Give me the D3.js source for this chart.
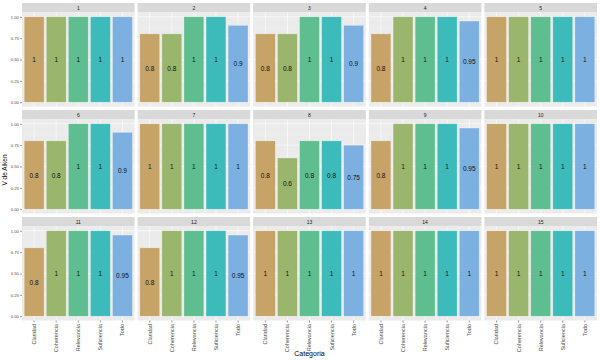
<!DOCTYPE html>
<html>
<head>
<meta charset="utf-8">
<script src="https://cdn.jsdelivr.net/npm/d3@7"></script>
<style>
  body { margin: 0; background: #fff; }
  svg { display: block; font-family: "Liberation Sans", Arial, sans-serif; }
</style>
</head>
<body>
<svg id="chart" width="600" height="360"></svg>
<script>
// Datos
const categorias = ["Claridad", "Coherencia", "Relevancia", "Suficiencia", "Todo"];
const items = ["1", "2", "3", "4", "5", "6", "7", "8", "9", "10", "11", "12", "13", "14", "15"];
const valores = [
  [1, 1, 1, 1, 1],
  [0.8, 0.8, 1, 1, 0.9],
  [0.8, 0.8, 1, 1, 0.9],
  [0.8, 1, 1, 1, 0.95],
  [1, 1, 1, 1, 1],
  [0.8, 0.8, 1, 1, 0.9],
  [1, 1, 1, 1, 1],
  [0.8, 0.6, 0.8, 0.8, 0.75],
  [0.8, 1, 1, 1, 0.95],
  [1, 1, 1, 1, 1],
  [0.8, 1, 1, 1, 0.95],
  [0.8, 1, 1, 1, 0.95],
  [1, 1, 1, 1, 1],
  [1, 1, 1, 1, 1],
  [1, 1, 1, 1, 1]
];
const yTicks = [0, 0.25, 0.5, 0.75, 1];
const colores = ["#c6a367", "#9ab56c", "#5ebe90", "#3dbbbb", "#7cb0e0"];

const svg = d3.select("#chart");

// Layout de facetas (5 columnas x 3 filas)
const nCol = 5;
const left = 22, right = 597;
const stripH = 9.5, panelH = 94, rowPitch = 107, top0 = 3;

const colScale = d3.scaleBand()
  .domain(d3.range(nCol))
  .range([left, right])
  .paddingInner(0.026);
const pw = colScale.bandwidth();

const x = d3.scaleBand().domain(categorias).range([0, pw]).padding(0.1);
const y = d3.scaleLinear().domain([-0.05, 1.05]).range([panelH, 0]);
const color = d3.scaleOrdinal().domain(categorias).range(colores);

items.forEach((it, i) => {
  const c = i % nCol, r = Math.floor(i / nCol);
  const px = colScale(c);
  const sy = top0 + r * rowPitch;
  const py = sy + stripH;

  // Strip
  svg.append("rect")
    .attr("x", px).attr("y", sy)
    .attr("width", pw).attr("height", stripH)
    .attr("fill", "#d9d9d9");
  svg.append("text")
    .attr("x", px + pw / 2).attr("y", sy + stripH / 2)
    .attr("text-anchor", "middle")
    .attr("dominant-baseline", "central")
    .attr("font-size", "5px")
    .attr("fill", "#1a1a1a")
    .text(it);

  const g = svg.append("g").attr("transform", `translate(${px},${py})`);

  // Fondo y grilla
  g.append("rect").attr("width", pw).attr("height", panelH).attr("fill", "#ebebeb");
  const minor = [0.125, 0.375, 0.625, 0.875];
  g.selectAll(".minor").data(minor).enter().append("line")
    .attr("x1", 0).attr("x2", pw)
    .attr("y1", d => y(d)).attr("y2", d => y(d))
    .attr("stroke", "#f5f5f5").attr("stroke-width", 0.3);
  g.selectAll(".major").data(yTicks).enter().append("line")
    .attr("x1", 0).attr("x2", pw)
    .attr("y1", d => y(d)).attr("y2", d => y(d))
    .attr("stroke", "#fff").attr("stroke-width", 0.6);
  g.selectAll(".vgrid").data(categorias).enter().append("line")
    .attr("x1", d => x(d) + x.bandwidth() / 2).attr("x2", d => x(d) + x.bandwidth() / 2)
    .attr("y1", 0).attr("y2", panelH)
    .attr("stroke", "#fff").attr("stroke-width", 0.6);

  const datos = categorias.map((k, j) => ({ cat: k, v: valores[i][j] }));

  // Barras
  g.selectAll(".bar").data(datos).enter().append("rect")
    .attr("x", d => x(d.cat))
    .attr("y", d => y(d.v))
    .attr("width", x.bandwidth())
    .attr("height", d => y(0) - y(d.v))
    .attr("fill", d => color(d.cat))
    .attr("stroke", "#ffffff")
    .attr("stroke-opacity", 0.45)
    .attr("stroke-width", 0.6);

  // Etiquetas
  g.selectAll(".lab").data(datos).enter().append("text")
    .attr("x", d => x(d.cat) + x.bandwidth() / 2)
    .attr("y", d => y(d.v / 2))
    .attr("text-anchor", "middle")
    .attr("dominant-baseline", "central")
    .attr("font-size", "6.5px")
    .attr("fill", "#111")
    .text(d => d.v);

  // Eje Y (solo primera columna)
  if (c === 0) {
    const ay = g.append("g")
      .call(d3.axisLeft(y).tickValues(yTicks).tickFormat(d3.format(".2f")).tickSize(2).tickPadding(1.2));
    ay.select(".domain").remove();
    ay.selectAll("line").attr("stroke", "#333").attr("stroke-width", 0.5);
    ay.selectAll("text").attr("font-size", "4.2px").attr("fill", "#4d4d4d");
  }

  // Eje X (solo última fila)
  if (r === 2) {
    const ax = g.append("g")
      .attr("transform", `translate(0,${panelH})`)
      .call(d3.axisBottom(x).tickSize(2).tickPadding(1.5));
    ax.select(".domain").remove();
    ax.selectAll("line").attr("stroke", "#333").attr("stroke-width", 0.5);
    ax.selectAll("text")
      .attr("font-size", "5.5px")
      .attr("fill", "#4d4d4d")
      .attr("transform", "rotate(-90)")
      .attr("text-anchor", "end")
      .attr("dy", "0.35em")
      .attr("x", -3.5)
      .attr("y", 0);
  }
});

// Títulos de ejes
svg.append("text")
  .attr("x", (left + right) / 2)
  .attr("y", 356)
  .attr("text-anchor", "middle")
  .attr("font-size", "7px")
  .attr("fill", "#000")
  .text("Categoria");

svg.append("text")
  .attr("transform", "rotate(-90)")
  .attr("x", -170)
  .attr("y", 4.5)
  .attr("text-anchor", "middle")
  .attr("dominant-baseline", "central")
  .attr("font-size", "6.5px")
  .attr("fill", "#000")
  .text("V de Aiken");
</script>
</body>
</html>
